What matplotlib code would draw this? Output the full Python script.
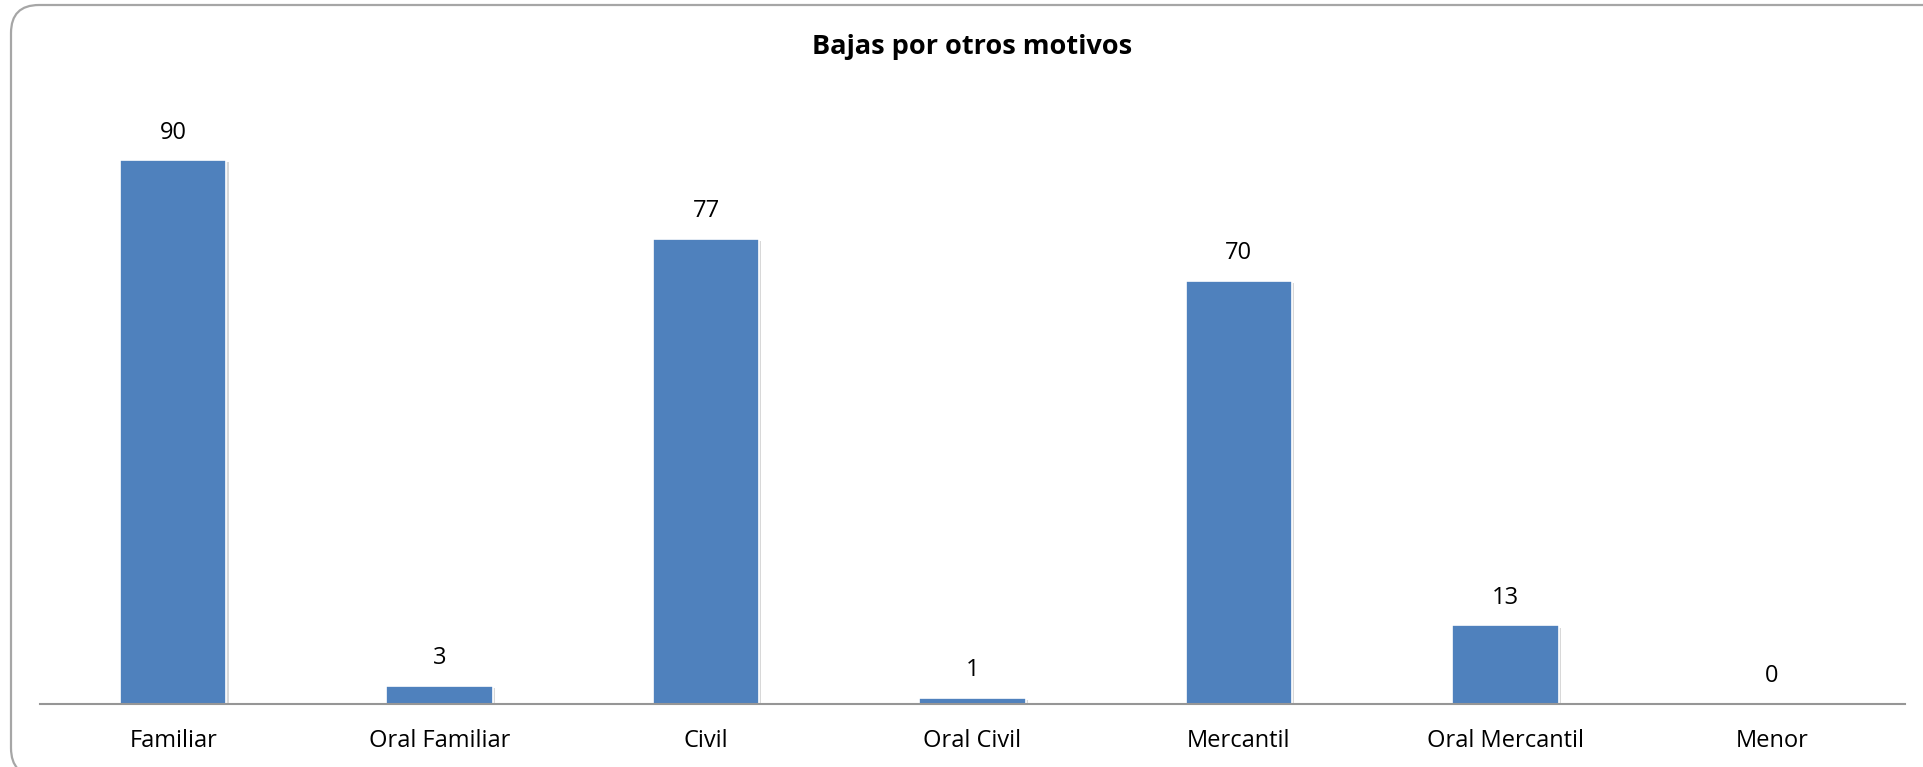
import matplotlib
matplotlib.use("Agg")

import matplotlib.pyplot as plt
from matplotlib.patches import FancyBboxPatch
import matplotlib.patheffects as pe

categories = ["Familiar", "Oral Familiar", "Civil", "Oral Civil",
              "Mercantil", "Oral Mercantil", "Menor"]
values = [90, 3, 77, 1, 70, 13, 0]
title = "Bajas por otros motivos"

plt.rcParams["font.family"] = ["Open Sans", "DejaVu Sans"]

W, H = 1923, 767
fig = plt.figure(figsize=(W / 100, H / 100), dpi=100)

# background axes in pixel units for the rounded frame;
# right and bottom sides of the frame run off the image
bg = fig.add_axes([0, 0, 1, 1], zorder=-1)
bg.set_xlim(0, W)
bg.set_ylim(0, H)
bg.axis("off")
frame = FancyBboxPatch((11, -9), 1945, 771,
                       boxstyle="round,pad=0,rounding_size=28",
                       facecolor="none", edgecolor="#a6a6a6",
                       linewidth=1.6, clip_on=False)
bg.add_patch(frame)

ax = fig.add_axes([40 / W, 63 / H, 1865 / W, 604 / H])
ax.set_facecolor("none")

x = range(len(categories))
bars = ax.bar(x, values, width=0.4, color="#4f81bd",
              edgecolor="white", linewidth=1.2, zorder=2)
for b, v in zip(bars, values):
    if v == 0:
        b.set_linewidth(0)
    b.set_path_effects([pe.SimplePatchShadow(offset=(1.5, -1.5),
                                             shadow_rgbFace="#bfbfbf",
                                             alpha=0.6),
                        pe.Normal()])

for xi, v in zip(x, values):
    ax.annotate(str(v), (xi, v), xytext=(0, 20), textcoords="offset points",
                ha="center", va="center", fontsize=17, color="black")

ax.set_xlim(-0.5, len(categories) - 0.5)
ax.set_ylim(0, 100)
ax.set_xticks(list(x))
ax.set_xticklabels(categories, fontsize=17)
ax.tick_params(axis="x", length=0, pad=18)
ax.set_yticks([])

for s in ["top", "right", "left"]:
    ax.spines[s].set_visible(False)
ax.spines["bottom"].set_color("#969696")
ax.spines["bottom"].set_linewidth(1.5)
ax.spines["bottom"].set_zorder(3)

fig.text(972 / W, 1 - 47 / H, title, ha="center", va="center",
         fontsize=19.5, fontweight="bold")

fig.savefig("out.png", dpi=100)
plt.close(fig)
